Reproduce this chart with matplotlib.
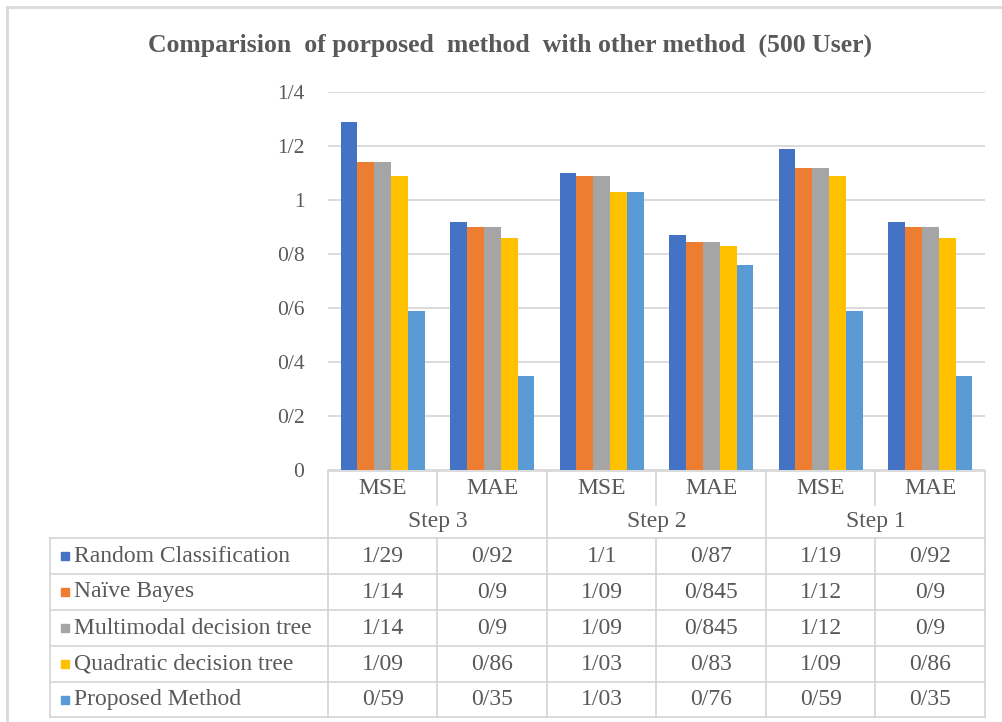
import numpy as np
import matplotlib.pyplot as plt
from matplotlib.patches import Rectangle

# data (Excel data table uses "/" as decimal mark)
steps = ['Step 3', 'Step 2', 'Step 1']
metrics = ['MSE', 'MAE']
series = ['Random Classification', 'Naïve Bayes', 'Multimodal decision tree',
          'Quadratic decision tree', 'Proposed Method']
random_cls = [1.29, 0.92, 1.1, 0.87, 1.19, 0.92]
naive_bayes = [1.14, 0.9, 1.09, 0.845, 1.12, 0.9]
multimodal_dt = [1.14, 0.9, 1.09, 0.845, 1.12, 0.9]
quadratic_dt = [1.09, 0.86, 1.03, 0.83, 1.09, 0.86]
proposed = [0.59, 0.35, 1.03, 0.76, 0.59, 0.35]
yticks = [0, 0.2, 0.4, 0.6, 0.8, 1, 1.2, 1.4]

values = [random_cls, naive_bayes, multimodal_dt, quadratic_dt, proposed]
colors = ['#4472C4', '#ED7D31', '#A5A5A5', '#FFC000', '#5B9BD5']
txt_col = '#595959'
line_col = '#D4D4D4'
font = 'Liberation Serif'


def fmt(v):
    return f'{v:g}'.replace('.', '/')


W, H = 1003, 722
fig = plt.figure(figsize=(W / 100, H / 100), dpi=100)

# pixel geometry of plot / table
x0, x1 = 328, 985
y_top, y_zero = 92, 470
ax = fig.add_axes([x0 / W, 1 - y_zero / H, (x1 - x0) / W, (y_zero - y_top) / H])

n = len(series)
ncat = len(random_cls)
xs = np.arange(ncat)
bw = 1 / 6.5
for i in range(n):
    ax.bar(xs + (i - (n - 1) / 2) * bw, values[i], width=bw, color=colors[i], zorder=3)

ax.set_xlim(-0.5, ncat - 0.5)
ax.set_ylim(0, 1.4)
ax.set_yticks(yticks)
ax.set_yticklabels([fmt(t) for t in yticks], fontfamily=font, fontsize=15.5, color=txt_col)
ax.tick_params(axis='y', length=0, pad=17)
ax.set_xticks([])
ax.grid(axis='y', color=line_col, linewidth=1.2, zorder=0)
for s in ax.spines.values():
    s.set_visible(False)
ax.set_facecolor('none')

# overlay in pixel coordinates for title, table and frame
ov = fig.add_axes([0, 0, 1, 1], zorder=-1)
ov.set_xlim(0, W)
ov.set_ylim(H, 0)
ov.axis('off')

ov.text(510, 45, 'Comparision  of porposed  method  with other method  (500 User)',
        ha='center', va='center', fontfamily=font, fontweight='bold',
        fontsize=18.5, color=txt_col)

# frame
ov.plot([7, W], [7, 7], color='#D9D9D9', lw=2)
ov.plot([7, 7], [7, H], color='#D9D9D9', lw=2)

bounds = np.linspace(x0, x1, ncat + 1)
centers = (bounds[:-1] + bounds[1:]) / 2
row_lines = [538, 574, 610, 646, 682, 717]
tl = 50
kw = dict(color=line_col, lw=1.2)

ov.plot([x0, x1], [471, 471], **kw)
for k, b in enumerate(bounds):
    if k % 2 == 0:
        ov.plot([b, b], [471, row_lines[-1]], **kw)
    else:
        ov.plot([b, b], [471, 505], **kw)
        ov.plot([b, b], [row_lines[0], row_lines[-1]], **kw)
for y in row_lines:
    ov.plot([tl, x1], [y, y], **kw)
ov.plot([tl, tl], [row_lines[0], row_lines[-1]], **kw)

tkw = dict(ha='center', va='center', fontfamily=font, fontsize=17, color=txt_col)
for j in range(ncat):
    ov.text(centers[j], 489, metrics[j % 2], **tkw)
for s_i, st in enumerate(steps):
    ov.text((bounds[2 * s_i] + bounds[2 * s_i + 2]) / 2, 522, st, **tkw)

for i in range(n):
    yc = (row_lines[i] + row_lines[i + 1]) / 2
    ov.add_patch(Rectangle((61, yc - 4), 8, 8, color=colors[i]))
    ov.text(74, yc, series[i], ha='left', va='center', fontfamily=font,
            fontsize=17, color=txt_col)
    for j in range(ncat):
        ov.text(centers[j], yc, fmt(values[i][j]), **tkw)

fig.savefig('out.png', dpi=100)
